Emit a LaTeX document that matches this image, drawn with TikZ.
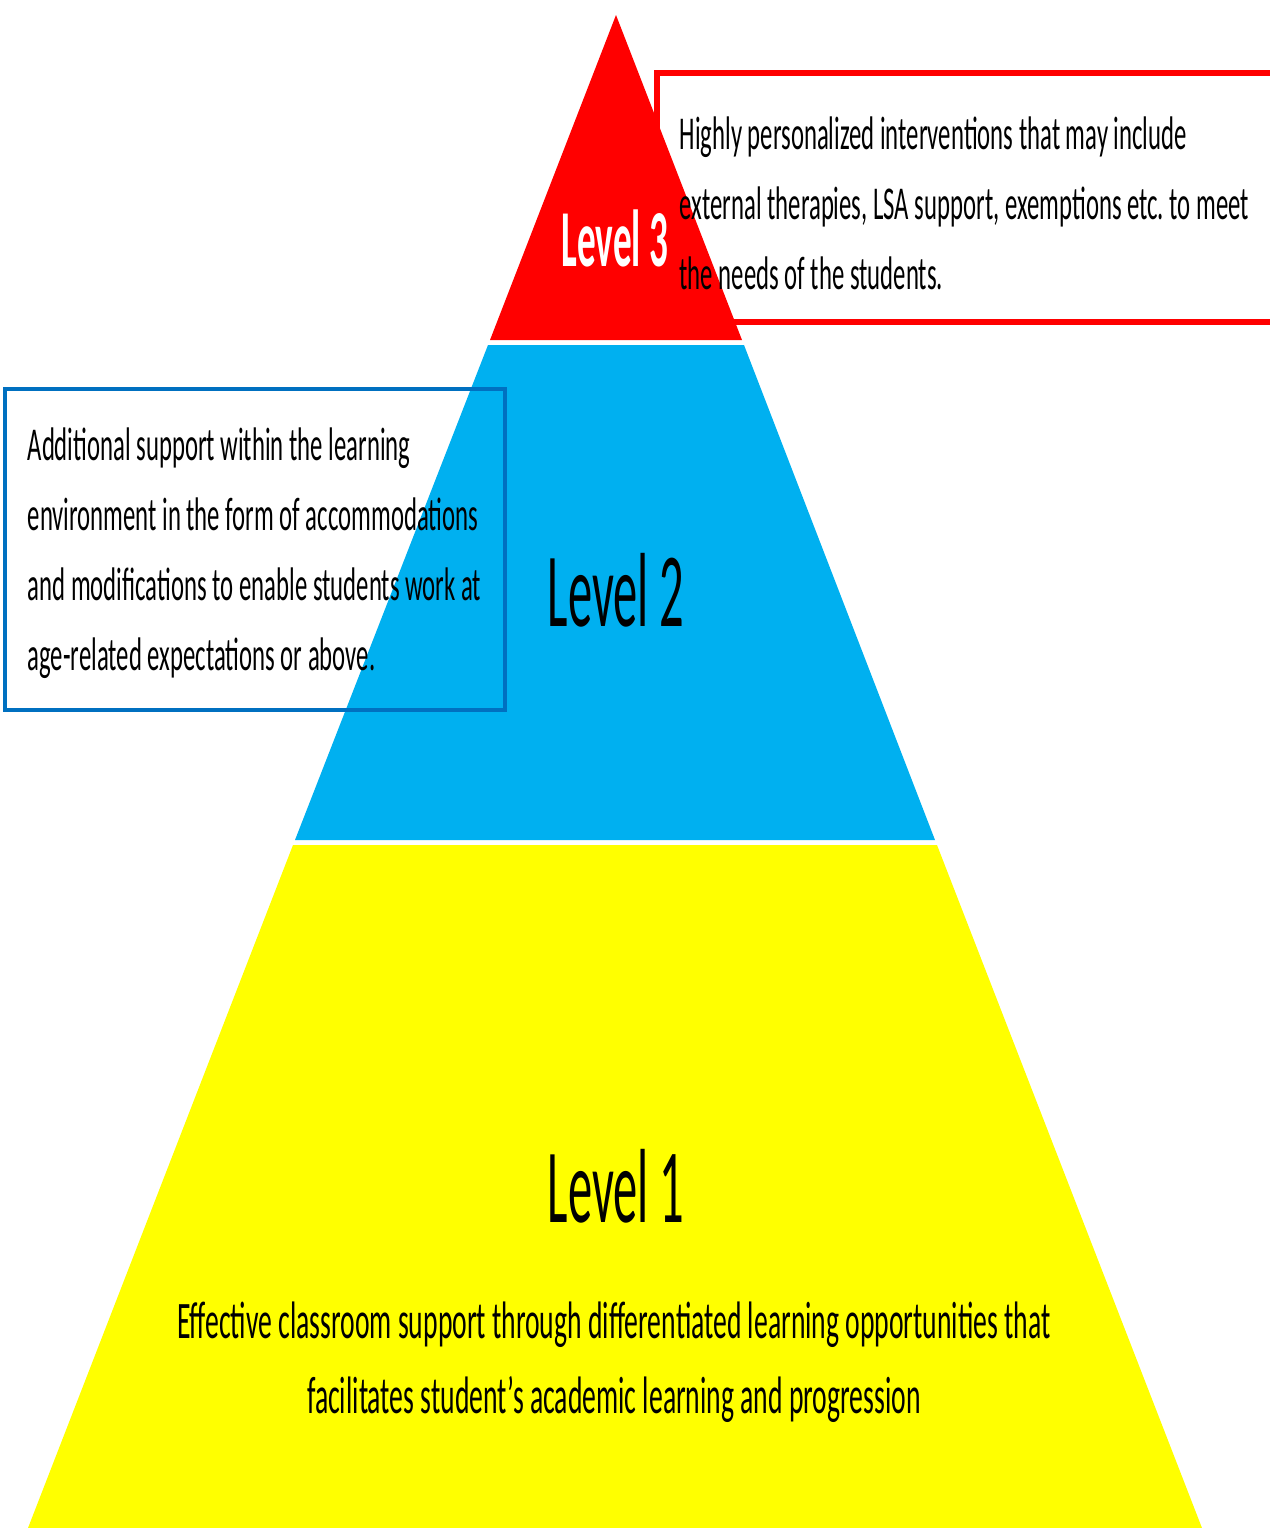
\documentclass[tikz,border=0pt]{standalone}
\usepackage{fontspec}
\newfontfamily\boxfont[FakeStretch=0.525]{Carlito}
\newfontfamily\levelfont[FakeStretch=0.46]{Carlito}
\definecolor{levelred}{RGB}{255,0,0}
\definecolor{levelblue}{RGB}{0,176,240}
\definecolor{levelyellow}{RGB}{255,255,0}
\definecolor{boxblue}{RGB}{0,112,192}
\frenchspacing
% keeps t and i apart (Carlito joins them otherwise)
\newcommand\nolig{\kern0pt}

\begin{document}
\begin{tikzpicture}[x=0.1mm, y=-0.1mm,
    infotext/.style={anchor=west, inner sep=0pt, align=left, font=\boxfont\fontsize{13.4}{19.9}\selectfont},
    levellabel/.style={inner sep=0pt, font=\levelfont\fontsize{30}{36}\selectfont}]
    \useasboundingbox (0,0) rectangle (1270,1528);
    \clip (0,0) rectangle (1270,1528);
    % the three tiers of the pyramid
    \fill[levelred] (616,15) -- (742,340) -- (490,340) -- cycle;
    \fill[levelblue] (488,345) -- (744,345) -- (935,840) -- (295,840) -- cycle;
    \fill[levelyellow] (293,845) -- (937,845) -- (1202,1528) -- (28,1528) -- cycle;
    % side boxes
    \draw[levelred, line width=1.5pt] (657,73) rectangle (1290,322);
    \draw[boxblue, line width=0.9pt] (5,389) rectangle (505,710);
    \node[infotext] (tierthree) at (679,203) {Highly personalized interven\nolig tions that may include\\external therapies, LSA support, exemp\nolig tions etc. to meet\\the needs of the students.};
    \node[infotext] (tiertwo) at (27,553) {Addi\nolig tional support within the learning\\environment in the form of accommoda\nolig tions\\and modifica\nolig tions to enable students work at\\age-related expecta\nolig tions or above.};
    \node[levellabel, text=white, font=\levelfont\bfseries\fontsize{23}{28}\selectfont] (lvlthree) at (615,238) {Level 3};
    \node[levellabel] (lvltwo) at (616,590) {Level 2};
    \node[levellabel] (lvlone) at (616,1186) {Level 1};
    \node[inner sep=0pt, align=center, font=\boxfont\fontsize{15}{21.3}\selectfont] (tierone) at (614,1362) {Effec\nolig tive classroom support through differen\nolig tiated learning opportuni\nolig ties that\\facilitates student’s academic learning and progression};
\end{tikzpicture}
\end{document}
